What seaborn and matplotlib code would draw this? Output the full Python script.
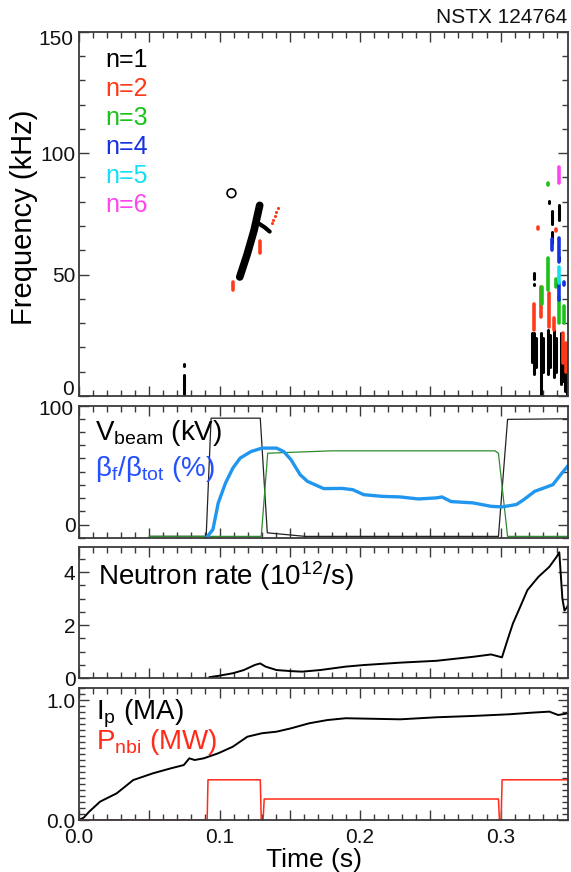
import numpy as np
import pandas as pd
import matplotlib
matplotlib.use("Agg")
import matplotlib.pyplot as plt
import seaborn as sns
from matplotlib.ticker import MultipleLocator, FixedLocator, FuncFormatter

sns.set_theme(style="white")
plt.rcParams['font.family'] = ['Liberation Sans', 'DejaVu Sans']
plt.rcParams['mathtext.fontset'] = 'custom'
plt.rcParams['mathtext.rm'] = 'Liberation Sans'
plt.rcParams['mathtext.it'] = 'Liberation Sans:italic'
plt.rcParams['mathtext.bf'] = 'Liberation Sans:bold'

# ---------------- data ----------------
# spectrogram features (vertical strokes): time, f_low, f_high, mode number
spec_t = [0.0745, 0.0745, 0.3225, 0.3240, 0.3255, 0.3288, 0.3302, 0.3340, 0.3355, 0.3383,
          0.3398, 0.3428, 0.3442, 0.3458, 0.3472, 0.3240, 0.3240, 0.3343, 0.3367, 0.3367,
          0.3419, 0.3419,
          0.1097, 0.1290, 0.3238, 0.3290, 0.3348, 0.3383, 0.3445, 0.3465, 0.3265, 0.3395,
          0.3296, 0.3336, 0.3395, 0.3419, 0.3454, 0.3336,
          0.3364, 0.3419, 0.3419, 0.3454,
          0.3419,
          0.3419]
spec_f0 = [1.0, 12.3, 14, 9, 12, 0, 10, 9, 12, 8,
           10, 5, 6, 2, 0, 48, 45.5, 79.3, 71, 63,
           72.5, 56,
           43.5, 59, 27, 32.5, 28.4, 27, 13.6, 10, 68.8, 67.8,
           38, 43.7, 45, 30, 30, 86.8,
           60, 55, 39.5, 45.8,
           46.5,
           87.7]
spec_f1 = [8.5, 13.0, 26, 26, 24, 26, 24, 27, 25, 27,
           24, 26, 22, 18, 14, 50.7, 46.2, 80.2, 76, 67.6,
           78.7, 57.2,
           47, 64, 38, 45, 42.4, 32, 26, 22, 69.6, 68.6,
           45, 57, 48, 40.8, 37, 87.6,
           64.5, 65, 46.5, 47,
           53,
           94.3]
spec_n = [1] * 22 + [2] * 10 + [3] * 6 + [4] * 4 + [5] + [6]

chirp_t = [0.1144, 0.1195, 0.1245, 0.1286]
chirp_f = [49, 58, 68, 78.5]
arm_t = [0.1280, 0.1320, 0.1357]
arm_f = [71, 69.5, 67.7]
loop_t = [0.1085]
loop_f = [83.5]
reddot_t = [0.1372, 0.1383, 0.1394, 0.1405, 0.1416]
reddot_f = [71.1, 72.6, 74.1, 75.7, 77.3]

mode_labels = ['n=1', 'n=2', 'n=3', 'n=4', 'n=5', 'n=6']
mode_colors = ['#000000', '#FF3A1A', '#19C319', '#1632E0', '#14E0F5', '#FF45F0']

# beam voltage & second source (panel 2)
vbeam_t = [0.050, 0.0905, 0.0940, 0.1290, 0.1340, 0.1610, 0.2985, 0.3050, 0.3480]
vbeam_v = [-10, -10, 89.5, 89.5, -7, -10, -10, 88.5, 89]
green_t = [0.050, 0.1297, 0.1343, 0.1795, 0.2960, 0.2985, 0.3050, 0.3480]
green_v = [-10, -10, 60, 62, 62, 60, -10, -10]
beta_t = [0.0914, 0.0953, 0.0991, 0.1043, 0.1095, 0.1147, 0.1224, 0.1302, 0.1406, 0.1457,
          0.1509, 0.1574, 0.1626, 0.1742, 0.1871, 0.1948, 0.2027, 0.2156, 0.2286, 0.2415,
          0.2544, 0.2583, 0.2648, 0.2803, 0.2933, 0.3010, 0.3113, 0.3166, 0.3243, 0.3372,
          0.3437, 0.3480]
beta_v = [-10, -4.2, 18.2, 35, 47.5, 55.9, 61.4, 64.3, 64.3, 61.4,
          54.5, 41.9, 36.3, 30.2, 30.4, 29.3, 25.1, 23.7, 23.2, 21.5,
          22.4, 23.2, 19.3, 18.2, 15.3, 14.8, 16.8, 21, 27.9, 33.5,
          43.3, 49.5]

# neutron rate (panel 3)
neut_t = [0.0927, 0.0991, 0.1095, 0.1173, 0.1250, 0.1289, 0.1328, 0.1406, 0.1509, 0.1587,
          0.1716, 0.1898, 0.2027, 0.2286, 0.2544, 0.2803, 0.2933, 0.3010, 0.3049, 0.3088,
          0.3140, 0.3191, 0.3269, 0.3347, 0.3399, 0.3418, 0.3440, 0.3455, 0.3470, 0.3480]
neut_v = [0.03, 0.08, 0.18, 0.30, 0.49, 0.55, 0.43, 0.30, 0.26, 0.24,
          0.30, 0.43, 0.49, 0.58, 0.65, 0.80, 0.89, 0.78, 1.43, 2.06,
          2.69, 3.32, 3.82, 4.20, 4.58, 4.75, 3.00, 2.55, 2.65, 2.75]

# plasma current & NBI power (panel 4)
ip_t = [0.0, 0.0034, 0.0073, 0.0150, 0.0268, 0.0386, 0.0526, 0.0655, 0.0746, 0.0785,
        0.0823, 0.0888, 0.0991, 0.1095, 0.1198, 0.1302, 0.1406, 0.1509, 0.1638, 0.1768,
        0.1898, 0.2156, 0.2286, 0.2544, 0.2803, 0.3062, 0.3217, 0.3347, 0.3410, 0.3480]
ip_v = [0.0, 0.02, 0.07, 0.153, 0.222, 0.333, 0.389, 0.431, 0.458, 0.514,
        0.50, 0.514, 0.556, 0.611, 0.694, 0.723, 0.736, 0.764, 0.806, 0.833,
        0.848, 0.842, 0.839, 0.856, 0.867, 0.881, 0.894, 0.903, 0.875, 0.889]
pnbi_t = [0.0, 0.0912, 0.0918, 0.1290, 0.1297, 0.1310, 0.1318, 0.2985, 0.2992, 0.3004, 0.3011, 0.3480]
pnbi_v = [0.0, 0.0, 0.335, 0.335, 0.0, 0.0, 0.175, 0.175, 0.0, 0.0, 0.335, 0.335]

time_ticks = [0.0, 0.1, 0.2, 0.3]

# ---------------- figure ----------------
W, H = 571, 872
fig = plt.figure(figsize=(W / 100, H / 100), dpi=100)

def px_axes(left, top, right, bottom):
    return fig.add_axes([left / W, 1 - bottom / H, (right - left) / W, (bottom - top) / H])

ax1 = px_axes(79, 31.7, 568, 396)
ax2 = px_axes(79, 405.7, 568, 537.7)
ax3 = px_axes(79, 547, 568, 678)
ax4 = px_axes(79, 688, 568, 820)
axes = [ax1, ax2, ax3, ax4]
AXW = 568 - 79

frame_c = '#3a3a3a'
TICK_FS = 15
LAB_FS = 20

def fmt_skip(skip, decimals=0):
    def f(v, p):
        for s in skip:
            if abs(v - s) < 1e-6:
                return ''
        return f'{v:.{decimals}f}'
    return FuncFormatter(f)

# panel 1: spectrogram-like features
spec = pd.DataFrame({'t': spec_t, 'f0': spec_f0, 'f1': spec_f1, 'n': spec_n})
for n, grp in spec.groupby('n'):
    lc = ax1.vlines(grp['t'], grp['f0'], grp['f1'], colors=mode_colors[n - 1],
                    lw=2.2 if n == 1 else 2.6)
    lc.set_capstyle('round')
sns.lineplot(x=chirp_t, y=chirp_f, ax=ax1, color='black', lw=5.5, sort=False, estimator=None)
sns.lineplot(x=arm_t, y=arm_f, ax=ax1, color='black', lw=3, sort=False, estimator=None)
ax1.scatter(loop_t, loop_f, s=40, facecolors='none', edgecolors='black', linewidths=1.2, zorder=3)
ax1.scatter(reddot_t, reddot_f, s=5, color=mode_colors[1], zorder=3, linewidths=0)
ax1.set_ylim(0, 150)
ax1.yaxis.set_major_locator(MultipleLocator(50))
ax1.yaxis.set_minor_locator(MultipleLocator(10))
ax1.yaxis.set_major_formatter(fmt_skip([0, 150]))
for k, (lab, col) in enumerate(zip(mode_labels, mode_colors)):
    ax1.text(0.053, 0.922 - k * 0.0795, lab, color=col, fontsize=18,
             transform=ax1.transAxes, ha='left', va='center')

# panel 2
sns.lineplot(x=vbeam_t, y=vbeam_v, ax=ax2, color='#222222', lw=0.9, sort=False, estimator=None)
sns.lineplot(x=green_t, y=green_v, ax=ax2, color='#2E8B2E', lw=0.9, sort=False, estimator=None)
sns.lineplot(x=beta_t, y=beta_v, ax=ax2, color='#2196EE', lw=2.4, sort=False, estimator=None)
ax2.set_ylim(-100 / 9, 100)
ax2.yaxis.set_major_locator(FixedLocator([0, 100]))
ax2.yaxis.set_minor_locator(MultipleLocator(100 / 9))
ax2.yaxis.set_major_formatter(fmt_skip([100]))
ax2.text(0.033, 0.74, r'V$_{\mathrm{beam}}$ (kV)', color='black', fontsize=LAB_FS,
         transform=ax2.transAxes, ha='left', va='baseline')
ax2.text(0.033, 0.47, r'$\mathrm{β}_{\mathrm{f}}/\mathrm{β}_{\mathrm{tot}}$ (%)', color='#2450FF',
         fontsize=LAB_FS, transform=ax2.transAxes, ha='left', va='baseline')

# panel 3
sns.lineplot(x=neut_t, y=neut_v, ax=ax3, color='black', lw=1.4, sort=False, estimator=None)
ax3.set_ylim(0, 4.95)
ax3.yaxis.set_major_locator(MultipleLocator(2))
ax3.yaxis.set_minor_locator(MultipleLocator(0.5))
ax3.text(0.039, 0.71, r'Neutron rate (10$^{12}$/s)', color='black', fontsize=LAB_FS,
         transform=ax3.transAxes, ha='left', va='baseline')

# panel 4
sns.lineplot(x=ip_t, y=ip_v, ax=ax4, color='black', lw=1.4, sort=False, estimator=None)
sns.lineplot(x=pnbi_t, y=pnbi_v, ax=ax4, color='#FF2A1A', lw=1.1, sort=False, estimator=None)
ax4.set_ylim(0, 1.1)
ax4.yaxis.set_major_locator(FixedLocator([0.0, 1.0]))
ax4.yaxis.set_minor_locator(MultipleLocator(0.05))
ax4.yaxis.set_major_formatter(FuncFormatter(lambda v, p: f'{v:.1f}'))
ax4.text(0.035, 0.765, r'I$_{\mathrm{p}}$ (MA)', color='black', fontsize=LAB_FS,
         transform=ax4.transAxes, ha='left', va='baseline')
ax4.text(0.035, 0.535, r'P$_{\mathrm{nbi}}$ (MW)', color='#FF2A1A', fontsize=LAB_FS,
         transform=ax4.transAxes, ha='left', va='baseline')

def xfmt(v, p):
    for tt in time_ticks:
        if abs(v - tt) < 1e-6:
            return f'{tt:.1f}'
    return ''

for ax in axes:
    ax.set_xlim(0, 0.348)
    ax.xaxis.set_major_locator(MultipleLocator(0.05))
    ax.xaxis.set_minor_locator(MultipleLocator(0.01))
    ax.tick_params(which='both', direction='in', top=True, right=True, bottom=True, left=True,
                   color=frame_c, labelsize=TICK_FS, pad=2.5, labelcolor='#111111')
    ax.tick_params(which='major', length=7, width=1.0)
    ax.tick_params(which='minor', length=4, width=1.0)
    ax.set_xlabel('')
    ax.set_ylabel('')
    for s in ax.spines.values():
        s.set_color(frame_c)
        s.set_linewidth(1.3)
    ax.set_facecolor('white')
    if ax is ax4:
        ax.xaxis.set_major_formatter(FuncFormatter(xfmt))
        ax.tick_params(axis='x', pad=6)
    else:
        ax.xaxis.set_major_formatter(FuncFormatter(lambda v, p: ''))

# end-of-axis labels kept inside the axis extent, as in the reference
lab_x = -5.5 / AXW
ax1.text(lab_x, (396 - 389.5) / 364.3, '0', transform=ax1.transAxes, ha='right', va='center',
         fontsize=TICK_FS, color='#111111')
ax1.text(lab_x, (396 - 39.5) / 364.3, '150', transform=ax1.transAxes, ha='right', va='center',
         fontsize=TICK_FS, color='#111111')
ax2.text(lab_x, (537.7 - 409.5) / 132.0, '100', transform=ax2.transAxes, ha='right', va='center',
         fontsize=TICK_FS, color='#111111')

fig.text(24.5 / W, 1 - 217 / H, 'Frequency (kHz)', rotation=90, ha='center', va='center',
         fontsize=21, color='black')
fig.text(314 / W, 1 - 860 / H, 'Time (s)', ha='center', va='center', fontsize=19, color='black')
fig.text(567 / W, 1 - 17.5 / H, 'NSTX 124764', ha='right', va='center', fontsize=15, color='#111111')

fig.savefig('out.png', dpi=100, facecolor='white')
